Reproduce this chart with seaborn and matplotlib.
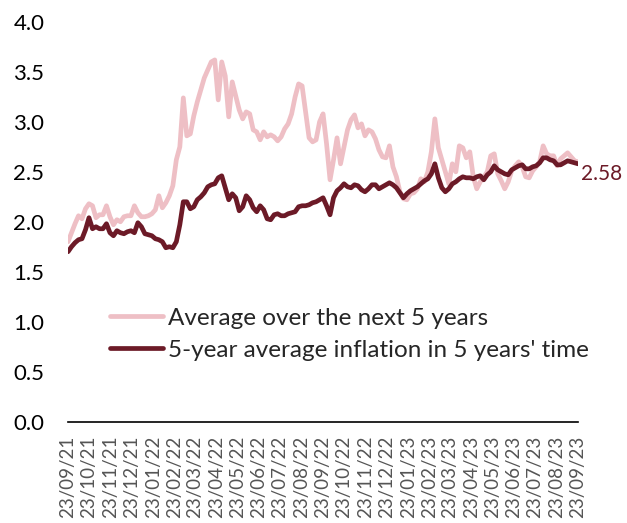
import pandas as pd
import matplotlib
matplotlib.use("Agg")
import matplotlib.pyplot as plt
import matplotlib.dates as mdates
from matplotlib.ticker import FormatStrFormatter, MultipleLocator
import seaborn as sns

# Observation dates: every 5 days from 23/09/21 to 23/09/23
start_date = "2021-09-23"
end_date = "2023-09-23"
n_obs = 147

avg_next_5y = [
    1.80, 1.89, 1.98, 2.06, 2.03, 2.13, 2.18, 2.16, 2.04, 2.07,
    2.07, 2.16, 2.05, 1.97, 2.02, 2.00, 2.05, 2.06, 2.06, 2.16,
    2.09, 2.05, 2.05, 2.06, 2.08, 2.12, 2.26, 2.14, 2.19, 2.26,
    2.36, 2.62, 2.75, 3.24, 2.86, 2.88, 3.06, 3.20, 3.32, 3.44,
    3.52, 3.60, 3.62, 3.22, 3.60, 3.46, 3.05, 3.40, 3.26, 3.12,
    3.03, 3.10, 3.08, 2.92, 2.90, 2.82, 2.90, 2.85, 2.87, 2.85,
    2.81, 2.85, 2.93, 2.98, 3.08, 3.25, 3.38, 3.36, 3.10, 2.84,
    2.80, 2.82, 3.00, 3.08, 2.78, 2.42, 2.62, 2.84, 2.58, 2.75,
    2.92, 3.02, 3.07, 2.94, 2.98, 2.86, 2.92, 2.90, 2.83, 2.72,
    2.65, 2.64, 2.76, 2.55, 2.45, 2.30, 2.23, 2.22, 2.28, 2.29,
    2.33, 2.43, 2.40, 2.50, 2.70, 3.03, 2.74, 2.62, 2.50, 2.38,
    2.58, 2.50, 2.76, 2.74, 2.64, 2.70, 2.45, 2.33, 2.40, 2.45,
    2.50, 2.66, 2.68, 2.48, 2.41, 2.33, 2.40, 2.51, 2.56, 2.60,
    2.55, 2.45, 2.44, 2.51, 2.55, 2.60, 2.76, 2.68, 2.66, 2.66,
    2.56, 2.63, 2.66, 2.69, 2.65, 2.61, 2.60,
]

avg_5y5y = [
    1.70, 1.75, 1.79, 1.82, 1.83, 1.92, 2.04, 1.93, 1.95, 1.93,
    1.93, 1.98, 1.89, 1.86, 1.91, 1.89, 1.88, 1.90, 1.91, 1.89,
    1.99, 1.95, 1.88, 1.87, 1.86, 1.83, 1.82, 1.80, 1.74, 1.75,
    1.74, 1.80, 1.97, 2.20, 2.20, 2.13, 2.15, 2.22, 2.25, 2.29,
    2.35, 2.37, 2.38, 2.44, 2.46, 2.34, 2.22, 2.28, 2.24, 2.11,
    2.15, 2.26, 2.22, 2.14, 2.10, 2.16, 2.12, 2.03, 2.02, 2.07,
    2.08, 2.06, 2.06, 2.08, 2.09, 2.10, 2.15, 2.16, 2.16, 2.17,
    2.19, 2.20, 2.22, 2.24, 2.16, 2.07, 2.24, 2.31, 2.34, 2.38,
    2.35, 2.34, 2.37, 2.36, 2.32, 2.30, 2.33, 2.37, 2.37, 2.33,
    2.35, 2.37, 2.39, 2.37, 2.34, 2.29, 2.24, 2.28, 2.31, 2.33,
    2.35, 2.38, 2.41, 2.43, 2.48, 2.58, 2.44, 2.34, 2.30, 2.33,
    2.38, 2.40, 2.43, 2.45, 2.44, 2.44, 2.43, 2.45, 2.46, 2.42,
    2.47, 2.50, 2.56, 2.52, 2.50, 2.48, 2.47, 2.52, 2.54, 2.56,
    2.57, 2.53, 2.53, 2.55, 2.56, 2.59, 2.64, 2.64, 2.62, 2.61,
    2.57, 2.57, 2.59, 2.61, 2.60, 2.59, 2.58,
]

series_names = ["Average over the next 5 years",
                "5-year average inflation in 5 years' time"]
series_colors = ["#EEBFC5", "#6C1A27"]

dates = pd.date_range(start_date, end_date, periods=n_obs)
df = pd.concat([
    pd.DataFrame({"date": dates, "value": avg_next_5y, "series": series_names[0]}),
    pd.DataFrame({"date": dates, "value": avg_5y5y, "series": series_names[1]}),
])

sns.set_theme(style="white")
plt.rcParams["font.family"] = ["Lato", "DejaVu Sans"]

fig = plt.figure(figsize=(6.27, 5.23), dpi=100)
ax = fig.add_axes([0.1085, 0.194, 0.8135, 0.764])

sns.lineplot(data=df, x="date", y="value", hue="series",
             hue_order=series_names, palette=series_colors,
             linewidth=3.4, ax=ax, legend=True)

ax.set_xlim(pd.Timestamp(start_date), pd.Timestamp(end_date))
ax.set_ylim(0, 4.0)
ax.yaxis.set_major_locator(MultipleLocator(0.5))
ax.yaxis.set_major_formatter(FormatStrFormatter("%.1f"))
ax.xaxis.set_major_locator(mdates.MonthLocator(bymonthday=23))
ax.xaxis.set_major_formatter(mdates.DateFormatter("%d/%m/%y"))

ax.set_xlabel("")
ax.set_ylabel("")
for side in ["left", "right", "top"]:
    ax.spines[side].set_visible(False)
ax.spines["bottom"].set_color("black")
ax.spines["bottom"].set_linewidth(1.2)

ax.tick_params(axis="y", length=0, pad=17, labelsize=16, labelcolor="black")
ax.tick_params(axis="x", direction="inout", length=10, width=1.2,
               color="black", pad=5, labelsize=13.5, labelcolor="#555555",
               labelrotation=90)

# Latest value of the 5y5y series
ax.annotate(f"{avg_5y5y[-1]:.2f}", xy=(dates[-1], avg_5y5y[-1]),
            xytext=(2, -7), textcoords="offset points",
            ha="left", va="center", fontsize=15, color=series_colors[1])

leg = ax.legend(loc="upper left", bbox_to_anchor=(0.082, 0.285),
                frameon=False, fontsize=17.5, handlelength=2.2,
                handletextpad=0.2, labelspacing=0.45,
                borderpad=0, borderaxespad=0)
for line in leg.get_lines():
    line.set_linewidth(3.4)

fig.savefig("out.png", dpi=100)
